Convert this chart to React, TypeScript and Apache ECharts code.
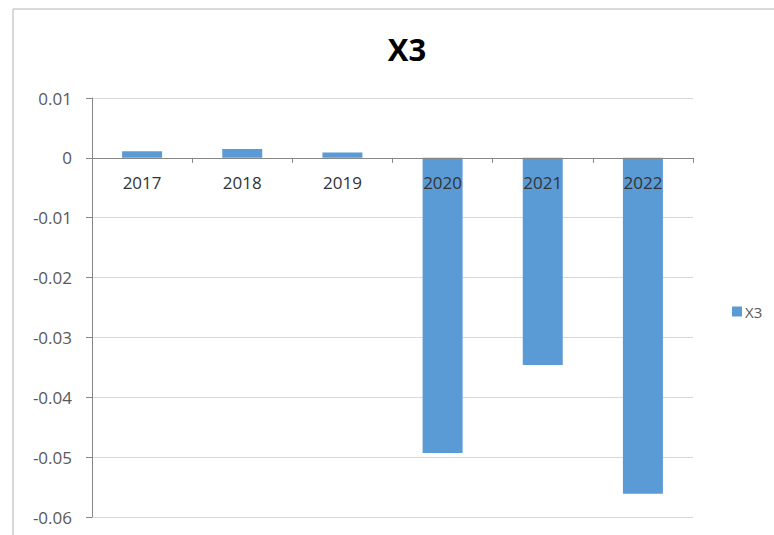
import React, { useEffect, useRef } from "react";
import * as echarts from "echarts";

const categories = ["2017", "2018", "2019", "2020", "2021", "2022"];
const seriesName = "X3";
const values = [0.0011, 0.0015, 0.0009, -0.0493, -0.0346, -0.0561];
const yMin = -0.06;
const yMax = 0.01;
const yInterval = 0.01;

const GRID_TOP = 98;
const GRID_BOTTOM = 18;
const CHART_H = 535;

export default function App() {
  const ref = useRef<HTMLDivElement>(null);
  useEffect(() => {
    if (!ref.current) return;
    const chart = echarts.init(ref.current, undefined, { renderer: "svg" });
    const plotH = CHART_H - GRID_TOP - GRID_BOTTOM;
    // distance from bottom of plot to the zero line, so the category axis sits on zero (Excel style)
    const zeroOffset = ((0 - yMin) / (yMax - yMin)) * plotH;
    chart.setOption({
      animation: false,
      backgroundColor: "#ffffff",
      title: {
        text: "X3",
        left: 402,
        top: 28,
        textAlign: "center",
        textStyle: { fontFamily: "Open Sans", fontSize: 31, fontWeight: "bold", color: "#000000" },
      },
      legend: {
        data: [seriesName],
        left: 727,
        top: 299,
        icon: "rect",
        itemWidth: 10,
        itemHeight: 10,
        itemGap: 4,
        textStyle: { fontFamily: "Open Sans", fontSize: 15, color: "#595959", padding: [0, 0, 0, -2] },
      },
      graphic: [
        { type: "line", shape: { x1: 13, y1: 9, x2: 774, y2: 9 }, style: { stroke: "#d9d9d9", lineWidth: 2 } },
        { type: "line", shape: { x1: 13, y1: 9, x2: 13, y2: 535 }, style: { stroke: "#d9d9d9", lineWidth: 2 } },
      ],
      grid: { left: 92, right: 81, top: GRID_TOP, bottom: GRID_BOTTOM, containLabel: false },
      xAxis: {
        type: "category",
        data: categories,
        z: 10,
        position: "bottom",
        offset: -zeroOffset,
        axisLine: { onZero: false, lineStyle: { color: "#868686", width: 1 } },
        axisTick: { show: true, alignWithLabel: false, length: 5, lineStyle: { color: "#868686" } },
        axisLabel: { fontFamily: "Open Sans", fontSize: 17, color: "#333333", margin: 16 },
        splitLine: { show: false },
      },
      yAxis: {
        type: "value",
        min: yMin,
        max: yMax,
        interval: yInterval,
        axisLine: { show: true, lineStyle: { color: "#868686" } },
        axisTick: { show: true, length: 6, lineStyle: { color: "#868686" } },
        axisLabel: {
          fontFamily: "Open Sans",
          fontSize: 17,
          color: "#595959",
          margin: 20,
          formatter: (v: number) => String(Math.round(v * 100) / 100),
        },
        splitLine: { show: true, lineStyle: { color: "#d9d9d9" } },
      },
      series: [
        {
          name: seriesName,
          type: "bar",
          data: values,
          barWidth: 40,
          itemStyle: { color: "#5b9bd5" },
        },
      ],
    });
    return () => chart.dispose();
  }, []);
  return <div ref={ref} style={{ width: 774, height: 535, position: "absolute", left: 0, top: 0 }} />;
}
